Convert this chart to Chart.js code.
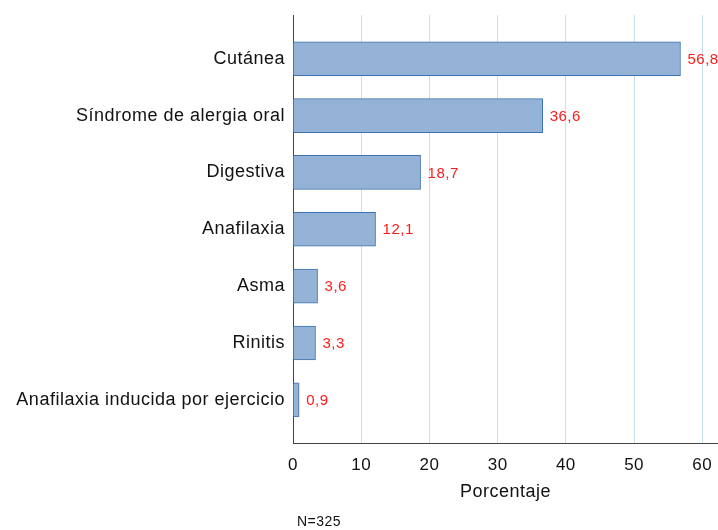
<!DOCTYPE html>
<html>
<head>
<meta charset="utf-8">
<script src="https://cdn.jsdelivr.net/npm/chart.js@4/dist/chart.umd.min.js"></script>
<style>
  html, body { margin: 0; padding: 0; background: #fff; }
  #wrap { width: 718px; height: 530px; }
</style>
</head>
<body>
<div id="wrap"><canvas id="symptomChart" width="718" height="530"></canvas></div>
<script>
const categories = ['Cutánea', 'Síndrome de alergia oral', 'Digestiva', 'Anafilaxia', 'Asma', 'Rinitis', 'Anafilaxia inducida por ejercicio'];
const percentages = [56.8, 36.6, 18.7, 12.1, 3.6, 3.3, 0.9];
const xTicks = [0, 10, 20, 30, 40, 50, 60];
const sampleNote = 'N=325';

const FONT = "'Liberation Sans', Arial, Helvetica, sans-serif";

// the original text is a slightly loose Helvetica
const spacing = {
  id: 'spacing',
  beforeDraw(chart) { chart.ctx.letterSpacing = '0.5px'; }
};

// red value labels at the end of each bar
const valueLabels = {
  id: 'valueLabels',
  afterDatasetsDraw(chart) {
    const ctx = chart.ctx;
    const meta = chart.getDatasetMeta(0);
    ctx.save();
    ctx.font = '15px ' + FONT;
    ctx.fillStyle = '#ff1a1a';
    ctx.textAlign = 'left';
    ctx.textBaseline = 'middle';
    meta.data.forEach(function (bar, i) {
      ctx.fillText(percentages[i].toFixed(1).replace('.', ','), bar.x + 7, bar.y + 1);
    });
    ctx.restore();
  }
};

// "N=325" footnote under the axis title
const footNote = {
  id: 'footNote',
  afterDraw(chart) {
    const ctx = chart.ctx;
    ctx.save();
    ctx.font = '14px ' + FONT;
    ctx.fillStyle = '#111';
    ctx.textAlign = 'left';
    ctx.textBaseline = 'middle';
    ctx.fillText(sampleNote, 297, 522);
    ctx.restore();
  }
};

const el = document.getElementById('symptomChart');
new Chart(el, {
  type: 'bar',
  data: {
    datasets: [{
      label: 'Porcentaje',
      data: percentages.map(function (v, i) { return { x: v, y: i }; }),
      backgroundColor: '#95b3d7',
      borderColor: '#3f72b0',
      borderWidth: 1,
      barThickness: 34
    }]
  },
  options: {
    indexAxis: 'y',
    responsive: false,
    animation: false,
    layout: { padding: { top: 15, left: 0, right: 0, bottom: 0 } },
    plugins: { legend: { display: false }, tooltip: { enabled: false } },
    scales: {
      y: {
        type: 'linear',
        offset: false,
        reverse: true,
        min: -0.77,
        max: 6.76,
        afterBuildTicks: function (scale) {
          scale.ticks = categories.map(function (c, i) { return { value: i }; });
        },
        afterFit: function (scale) {
          scale.width = 293;
          scale.paddingTop = 0;
          scale.paddingBottom = 0;
        },
        ticks: {
          padding: 8,
          color: '#111',
          font: { family: FONT, size: 18 },
          callback: function (v) { return categories[v]; }
        },
        grid: { display: false, drawTicks: false, offset: false },
        border: { display: true, color: '#444', width: 1 }
      },
      x: {
        type: 'linear',
        min: 0,
        max: 62.3,
        afterBuildTicks: function (scale) {
          scale.ticks = xTicks.map(function (v) { return { value: v }; });
        },
        afterFit: function (scale) {
          scale.height = 87;
          scale.paddingLeft = 0;
          scale.paddingRight = 0;
        },
        ticks: {
          padding: 12,
          color: '#111',
          font: { family: FONT, size: 17 }
        },
        grid: {
          drawTicks: false,
          color: function (c) { return c.tick && c.tick.value === 0 ? 'rgba(0,0,0,0)' : '#c6dfea'; },
          lineWidth: 1
        },
        border: { display: true, color: '#444', width: 1 },
        title: {
          display: true,
          text: 'Porcentaje',
          color: '#111',
          font: { family: FONT, size: 18 },
          padding: { top: 0, bottom: 27 }
        }
      }
    }
  },
  plugins: [spacing, valueLabels, footNote]
});
</script>
</body>
</html>
